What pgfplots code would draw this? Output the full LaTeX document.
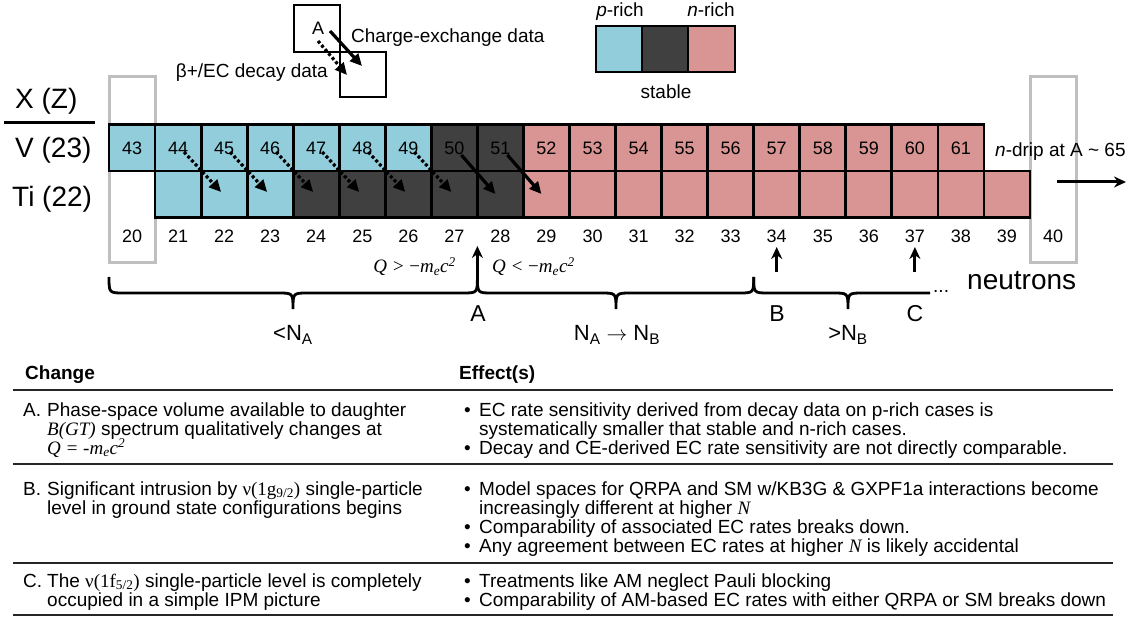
\documentclass[border=0pt]{standalone}
\usepackage{pgfplots}
\pgfplotsset{compat=1.18}
\usepackage{fontspec}
\setmainfont{Liberation Sans}
\newfontfamily\serif{Liberation Serif}
\usetikzlibrary{arrows.meta}

\definecolor{prich}{RGB}{146,205,220}
\definecolor{stab}{RGB}{64,64,64}
\definecolor{nrich}{RGB}{217,149,148}
\definecolor{frame}{RGB}{191,191,191}

\newcommand{\fs}[1]{\fontsize{#1pt}{#1pt}\selectfont}
% one nuclide cell: neutron number, top edge, fill
\newcommand{\cell}[3]{\draw[line width=2.8pt,fill=#3] (axis cs:{109+(#1-20)*46.05},#2) rectangle (axis cs:{109+(#1-19)*46.05},{#2+46.5});}
% brace under the neutron numbers: left end, tip, right end
\newcommand{\nbrace}[3]{\draw[line width=2.8pt] (axis cs:#1,277) .. controls (axis cs:#1,293) .. (axis cs:{#1+15},293) -- (axis cs:{#2-15},293) .. controls (axis cs:#2,293) .. (axis cs:#2,309) .. controls (axis cs:#2,293) .. (axis cs:{#2+15},293) -- (axis cs:{#3-15},293) .. controls (axis cs:#3,293) .. (axis cs:#3,277);}
\tikzset{txt/.style={inner sep=0pt,anchor=base west,font=\fs{19}},
  arr/.style={line width=3.2pt,-{Triangle[length=12pt,width=11pt]}},
  darr/.style={arr,dash pattern=on 3pt off 2.4pt},
  uparr/.style={line width=3pt,-{Stealth[length=12pt,width=11pt]}}}

\begin{document}
\begin{tikzpicture}
\begin{axis}[x=1pt,y=1pt,xmin=0,xmax=1128,ymin=0,ymax=631,y dir=reverse,
  hide axis,clip=false,scale only axis]
\path (axis cs:0,0) rectangle (axis cs:1128,631);

% key: decay / charge-exchange
\draw[line width=2.6pt] (axis cs:294,5) rectangle (axis cs:340,52);
\draw[line width=2.6pt] (axis cs:340,52) rectangle (axis cs:386,97);
\node[txt,font=\fs{18}] at (axis cs:312,35) {A};
\draw[arr] (axis cs:330,31) -- (axis cs:362,66);
\draw[darr] (axis cs:318,41) -- (axis cs:347,75);
\node[txt] at (axis cs:351,43) {Charge-exchange data};
\node[txt,anchor=base east] at (axis cs:328,78) {β+/EC decay data};

% key: colours
\draw[line width=2.8pt,fill=prich] (axis cs:596,26) rectangle (axis cs:642,72);
\draw[line width=2.8pt,fill=stab] (axis cs:642,26) rectangle (axis cs:688,72);
\draw[line width=2.8pt,fill=nrich] (axis cs:688,26) rectangle (axis cs:735,72);
\node[txt,anchor=base] at (axis cs:620,17) {\textit{p}-rich};
\node[txt,anchor=base] at (axis cs:711,17) {\textit{n}-rich};
\node[txt,anchor=base] at (axis cs:666,99) {stable};

% row labels
\node[txt,font=\fs{28}] at (axis cs:15,109) {X (Z)};
\draw[line width=3pt] (axis cs:4,123) -- (axis cs:95,123);
\node[txt,font=\fs{28}] at (axis cs:15,158) {V (23)};
\node[txt,font=\fs{28}] at (axis cs:12,207) {Ti (22)};

% N = 20 and N = 40 frames
\draw[frame,line width=3pt] (axis cs:109,77) rectangle (axis cs:155.05,263);
\draw[frame,line width=3pt] (axis cs:1030,77) rectangle (axis cs:1076.05,263);

% V (Z=23), N = 20..38
\pgfplotsinvokeforeach{20,...,26}{\cell{#1}{124.5}{prich}}
\pgfplotsinvokeforeach{27,28}{\cell{#1}{124.5}{stab}}
\pgfplotsinvokeforeach{29,...,38}{\cell{#1}{124.5}{nrich}}
% Ti (Z=22), N = 21..39
\pgfplotsinvokeforeach{21,...,23}{\cell{#1}{171}{prich}}
\pgfplotsinvokeforeach{24,...,28}{\cell{#1}{171}{stab}}
\pgfplotsinvokeforeach{29,...,39}{\cell{#1}{171}{nrich}}
% mass numbers of V
\pgfplotsinvokeforeach{20,...,38}{
  \node[txt,anchor=base,font=\fs{18}] at (axis cs:{109+(#1-19.5)*46.05},155) {\pgfmathparse{int(#1+23)}\pgfmathresult};}
% neutron numbers
\pgfplotsinvokeforeach{20,...,40}{
  \node[txt,anchor=base,font=\fs{18}] at (axis cs:{109+(#1-19.5)*46.05},243) {#1};}

% decay (dotted) and charge-exchange (solid) arrows V -> Ti
\pgfplotsinvokeforeach{21,...,26}{
  \draw[darr] (axis cs:{109+(#1-20)*46.05+29},152) -- (axis cs:{109+(#1-19)*46.05+20},192);}
\pgfplotsinvokeforeach{27,28}{
  \draw[arr] (axis cs:{109+(#1-20)*46.05+30},155) -- (axis cs:{109+(#1-19)*46.05+18},194);}

% n-drip
\node[txt] at (axis cs:995,157) {\textit{n}-drip at A \textasciitilde\ 65};
\draw[uparr] (axis cs:1057,182) -- (axis cs:1126,182);

% Q labels and markers
\node[txt,anchor=base east,font=\fs{19}\serif\itshape] at (axis cs:456,273) {Q > \textup{−}m\textsubscript{e}c\textsuperscript{2}};
\node[txt,font=\fs{19}\serif\itshape] at (axis cs:492,273) {Q < \textup{−}m\textsubscript{e}c\textsuperscript{2}};
\draw[uparr] (axis cs:477.4,277) -- (axis cs:477.4,246);
\draw[uparr] (axis cs:776.7,272) -- (axis cs:776.7,247);
\draw[uparr] (axis cs:914.9,272) -- (axis cs:914.9,247);

% braces
\nbrace{109}{293}{477.4}
\nbrace{477.4}{616}{753.7}
\draw[line width=2.8pt] (axis cs:753.7,277) .. controls (axis cs:753.7,293) .. (axis cs:768.7,293) -- (axis cs:833,293) .. controls (axis cs:848,293) .. (axis cs:848,309) .. controls (axis cs:848,293) .. (axis cs:863,293) -- (axis cs:930,293);
\node[txt] at (axis cs:933,293) {...};
\node[txt,font=\fs{28}] at (axis cs:967,290) {neutrons};
\node[txt,anchor=base,font=\fs{23}] at (axis cs:478,322) {A};
\node[txt,anchor=base,font=\fs{23}] at (axis cs:777,322) {B};
\node[txt,anchor=base,font=\fs{23}] at (axis cs:915,322) {C};
\node[txt,anchor=base,font=\fs{22}] at (axis cs:293,341) {<N\textsubscript{A}};
\node[txt,anchor=base,font=\fs{22}] at (axis cs:617,341) {N\textsubscript{A} $\rightarrow$ N\textsubscript{B}};
\node[txt,anchor=base,font=\fs{22}] at (axis cs:848,341) {>N\textsubscript{B}};

% table
\node[txt] at (axis cs:25,379) {\textbf{Change}};
\node[txt] at (axis cs:459,379) {\textbf{Effect(s)}};
\draw[line width=1.8pt,black!85] (axis cs:13,390) -- (axis cs:1113,390);
\draw[line width=1.8pt,black!85] (axis cs:13,464) -- (axis cs:1113,464);
\draw[line width=1.8pt,black!85] (axis cs:13,563) -- (axis cs:1113,563);
\draw[line width=1.8pt,black!85] (axis cs:13,615) -- (axis cs:1113,615);

\node[txt] at (axis cs:23,416) {A.};
\node[txt] at (axis cs:47,416) {Phase-space volume available to daughter};
\node[txt] at (axis cs:47,435) {{\serif\itshape B(GT)} spectrum qualitatively changes at};
\node[txt] at (axis cs:47,454) {\serif\itshape Q = -m\textsubscript{e}c\textsuperscript{2}};
\node[txt] at (axis cs:464,416) {•};
\node[txt] at (axis cs:479,416) {EC rate sensitivity derived from decay data on p-rich cases is};
\node[txt] at (axis cs:479,435) {systematically smaller that stable and n-rich cases.};
\node[txt] at (axis cs:464,454) {•};
\node[txt] at (axis cs:479,454) {Decay and CE-derived EC rate sensitivity are not directly comparable.};

\node[txt] at (axis cs:23,495) {B.};
\node[txt] at (axis cs:47,495) {Significant intrusion by {\serif ν(1g\textsubscript{9/2})} single-particle};
\node[txt] at (axis cs:47,514) {level in ground state configurations begins};
\node[txt] at (axis cs:464,495) {•};
\node[txt] at (axis cs:479,495) {Model spaces for QRPA and SM w/KB3G \& GXPF1a interactions become};
\node[txt] at (axis cs:479,514) {increasingly different at higher {\serif\itshape N}};
\node[txt] at (axis cs:464,533) {•};
\node[txt] at (axis cs:479,533) {Comparability of associated EC rates breaks down.};
\node[txt] at (axis cs:464,552) {•};
\node[txt] at (axis cs:479,552) {Any agreement between EC rates at higher {\serif\itshape N} is likely accidental};

\node[txt] at (axis cs:23,587) {C.};
\node[txt] at (axis cs:47,587) {The {\serif ν(1f\textsubscript{5/2})} single-particle level is completely};
\node[txt] at (axis cs:47,606) {occupied in a simple IPM picture};
\node[txt] at (axis cs:464,587) {•};
\node[txt] at (axis cs:479,587) {Treatments like AM neglect Pauli blocking};
\node[txt] at (axis cs:464,606) {•};
\node[txt] at (axis cs:479,606) {Comparability of AM-based EC rates with either QRPA or SM breaks down};
\end{axis}
\end{tikzpicture}
\end{document}
